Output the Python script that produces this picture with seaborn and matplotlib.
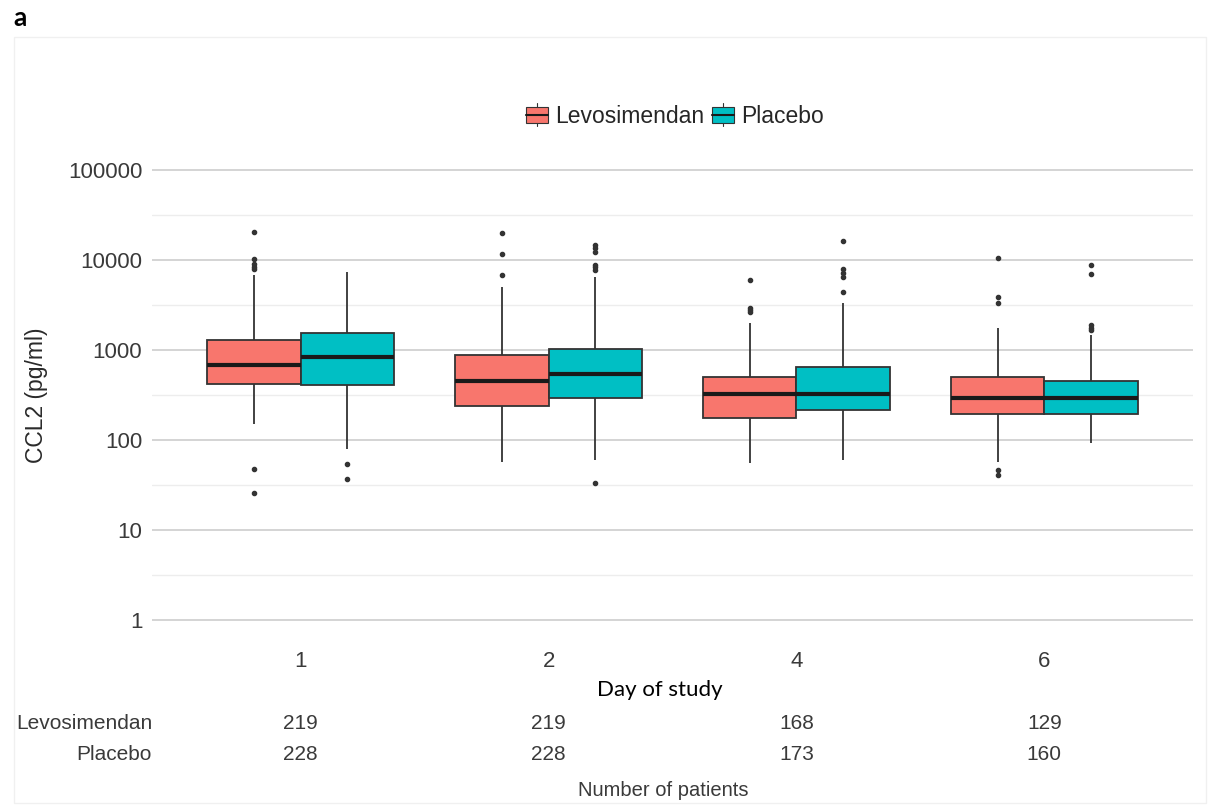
import numpy as np
import pandas as pd
import matplotlib
matplotlib.use("Agg")
import matplotlib.pyplot as plt
import matplotlib.transforms as mtransforms
from matplotlib.ticker import FixedLocator, NullFormatter
from matplotlib.patches import Rectangle, Patch
from matplotlib.lines import Line2D
from matplotlib.legend_handler import HandlerBase
import seaborn as sns

# ---------------- data ----------------
days = ["1", "2", "4", "6"]
groups = ["Levosimendan", "Placebo"]
colors = ["#F8766D", "#00BFC4"]

# CCL2 (pg/ml) box summaries, one entry per day (1, 2, 4, 6)
levo_q1 = [419, 240, 175, 195]
levo_med = [676, 449, 324, 295]
levo_q3 = [1291, 887, 498, 498]
levo_wlo = [151, 57, 55, 57]
levo_whi = [6900, 5050, 2010, 1740]
levo_out = [[26, 48, 7900, 8400, 9000, 10200, 20500],
            [6800, 11700, 19800],
            [2650, 2800, 2950, 6000],
            [41, 46, 3300, 3900, 10600]]

plac_q1 = [408, 290, 217, 195]
plac_med = [836, 541, 324, 290]
plac_q3 = [1535, 1019, 647, 453]
plac_wlo = [79, 60, 60, 92]
plac_whi = [7300, 6500, 3300, 1470]
plac_out = [[37, 54],
            [33, 7800, 8300, 8800, 12400, 13500, 14700],
            [4400, 6500, 7200, 7900, 16300],
            [1650, 1750, 1900, 7000, 8800]]

n_levo = [219, 219, 168, 129]
n_plac = [228, 228, 173, 160]

y_ticks = [1, 10, 100, 1000, 10000, 100000]
y_tick_labels = ["1", "10", "100", "1000", "10000", "100000"]

# -------- build a long table whose box statistics match the summaries --------
M = 30  # weight of quartile values so the quartiles fall exactly on them
rows = []
for g, q1s, meds, q3s, wlos, whis, outs in [
    (groups[0], levo_q1, levo_med, levo_q3, levo_wlo, levo_whi, levo_out),
    (groups[1], plac_q1, plac_med, plac_q3, plac_wlo, plac_whi, plac_out),
]:
    for i, d in enumerate(days):
        vals = ([wlos[i], whis[i]] + [q1s[i]] * M + [meds[i]] * M
                + [q3s[i]] * M + list(outs[i]))
        rows += [(d, g, v) for v in vals]
df = pd.DataFrame(rows, columns=["day", "group", "value"])


class BoxKeyHandler(HandlerBase):
    """Legend key drawn like a small boxplot glyph (ggplot style)."""
    def create_artists(self, legend, orig_handle, xdescent, ydescent,
                       width, height, fontsize, trans):
        x0, y0 = -xdescent, -ydescent
        fc = orig_handle.get_facecolor()
        ec = "#333333"
        rect = Rectangle((x0, y0 + 0.12 * height), width, 0.76 * height,
                         facecolor=fc, edgecolor=ec, linewidth=0.8,
                         transform=trans)
        med = Line2D([x0, x0 + width], [y0 + 0.5 * height] * 2, color="#1a1a1a",
                     linewidth=1.5, transform=trans)
        w1 = Line2D([x0 + width / 2] * 2, [y0 - 0.05 * height, y0 + 0.12 * height],
                    color=ec, linewidth=0.8, transform=trans)
        w2 = Line2D([x0 + width / 2] * 2, [y0 + 0.88 * height, y0 + 1.05 * height],
                    color=ec, linewidth=0.8, transform=trans)
        return [rect, med, w1, w2]


# ---------------- figure ----------------
sns.set_theme(style="white")
plt.rcParams["font.family"] = ["Liberation Sans", "DejaVu Sans"]

W, H = 1210, 805
fig = plt.figure(figsize=(W / 100, H / 100), dpi=100)
fig.patch.set_facecolor("white")
ax = fig.add_axes([152 / W, 1 - 642.5 / H, 1041 / W, 495 / H])

sns.boxplot(
    data=df, x="day", y="value", hue="group",
    order=days, hue_order=groups, palette=colors, saturation=1,
    width=0.755, gap=0, log_scale=True,
    linewidth=1.3, linecolor="#333333", fliersize=3.0,
    showcaps=False,
    medianprops=dict(color="#1a1a1a", linewidth=3.0),
    flierprops=dict(marker="o", markerfacecolor="#333333",
                    markeredgecolor="#333333"),
    ax=ax,
)

ax.set_xlim(-0.6, len(days) - 1 + 0.6)
ax.set_ylim(10 ** -0.25, 10 ** 5.25)
ax.yaxis.set_major_locator(FixedLocator(y_ticks))
ax.set_yticklabels(y_tick_labels)
ax.yaxis.set_minor_locator(FixedLocator([10 ** (k + 0.5) for k in range(5)]))
ax.yaxis.set_minor_formatter(NullFormatter())
ax.set_axisbelow(True)
ax.yaxis.grid(True, which="major", color="#d4d4d4", linewidth=1.4)
ax.yaxis.grid(True, which="minor", color="#ededed", linewidth=1.0)
ax.xaxis.grid(False)
for s in ax.spines.values():
    s.set_visible(False)
ax.tick_params(axis="both", which="both", length=0)
ax.tick_params(axis="y", pad=7, labelsize=16, labelcolor="#3a3a3a")
ax.tick_params(axis="x", pad=6, labelsize=16, labelcolor="#3a3a3a")
ax.set_xlabel("")
ax.set_ylabel("CCL2 (pg/ml)", fontsize=16.5, color="#2a2a2a", labelpad=14)
ax.set_facecolor("white")

# legend with boxplot-glyph keys
if ax.get_legend() is not None:
    ax.get_legend().remove()
handles = [Patch(facecolor=c) for c in colors]
ax.legend(handles, groups, handler_map={Patch: BoxKeyHandler()},
          loc="center", bbox_to_anchor=(0.5024, 1.0636), ncol=2,
          frameon=False, fontsize=16.5, handlelength=0.95, handleheight=1.0,
          handletextpad=0.3, columnspacing=0.35)

# ---------------- annotations ----------------
def fy(y):
    return 1 - y / H

fig.text(13 / W, fy(18), "a", fontsize=19, fontweight="bold",
         family=["Lato", "DejaVu Sans"], ha="left", va="center", color="black")
fig.text(660 / W, fy(690), "Day of study", fontsize=16,
         family=["Lato", "DejaVu Sans"], ha="center", va="center", color="black")

blend = mtransforms.blended_transform_factory(ax.transData, fig.transFigure)
fig.text(152 / W, fy(723), groups[0], fontsize=15, ha="right", va="center",
         color="#3a3a3a")
fig.text(152 / W, fy(754), groups[1], fontsize=15, ha="right", va="center",
         color="#3a3a3a")
for i, (a, b) in enumerate(zip(n_levo, n_plac)):
    ax.text(i, fy(723), str(a), transform=blend, fontsize=15, ha="center",
            va="center", color="#3a3a3a")
    ax.text(i, fy(754), str(b), transform=blend, fontsize=15, ha="center",
            va="center", color="#3a3a3a")
fig.text(663 / W, fy(790), "Number of patients", fontsize=14.5,
         ha="center", va="center", color="#3a3a3a")

# faint outer frame of the panel
fig.patches.append(Rectangle((14 / W, fy(803)), 1192 / W, (803 - 37) / H,
                             transform=fig.transFigure, fill=False,
                             edgecolor="#f0f0f0", linewidth=1.0))

fig.savefig("out.png", dpi=100, facecolor="white")
